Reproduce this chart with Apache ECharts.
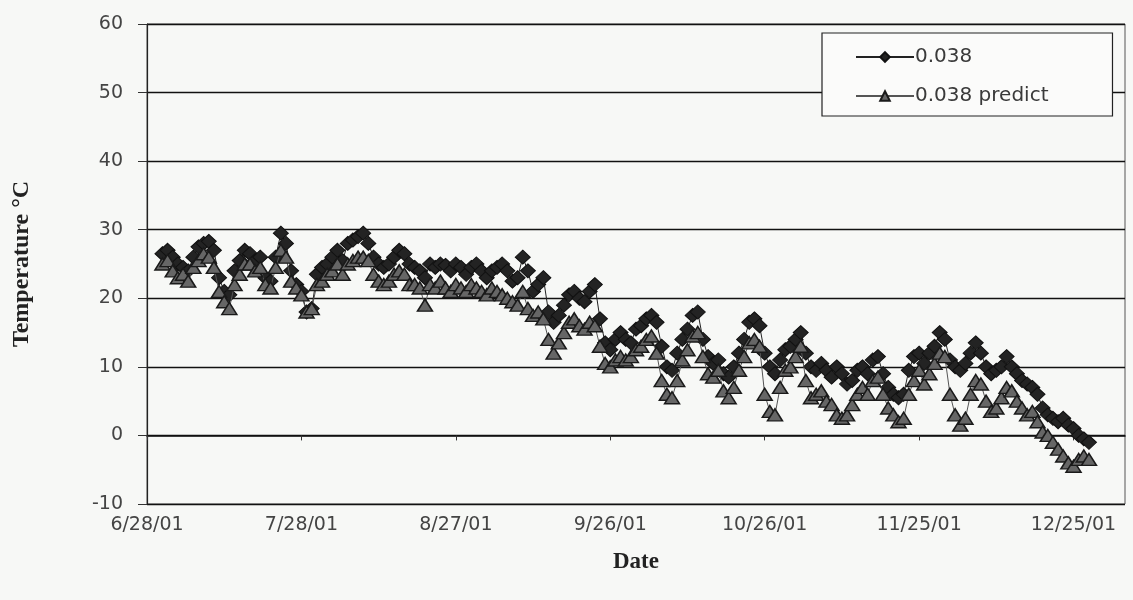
<!DOCTYPE html>
<html>
<head>
<meta charset="utf-8">
<script src="https://cdn.jsdelivr.net/npm/echarts@6/dist/echarts.min.js"></script>
<style>
  html, body { margin: 0; padding: 0; background: #f7f8f6; }
  #chart { width: 1133px; height: 600px; }
</style>
</head>
<body>
<div id="chart"></div>
<script>
// Daily water temperature, 7/1/01 through 12/28/01 (one value per day)
const axisOrigin = [2001, 5, 28];      // 6/28/01, left end of the date axis
const firstDayOffset = 3;              // first reading: 7/1/01
const dateTickDays = [0, 30, 60, 90, 120, 150, 180];
const yTicks = [-10, 0, 10, 20, 30, 40, 50, 60];

const measured = [
  26.5, 27, 26, 25, 24.5, 24,
  26, 27.5, 28, 28.3, 27,
  23, 21, 20.5,
  24, 25.5, 27,
  26.5, 25.5, 26,
  23, 22.5,
  26, 29.5, 28,
  24, 22, 21,
  18, 18.5,
  23.5, 24.5, 25,
  26, 27, 25.5,
  28, 28.5, 29, 29.5, 28,
  26, 25, 24.5, 25,
  26, 27, 26.5, 25,
  24.5, 24, 23,
  25, 24.5, 25, 24.8, 24, 25, 24.5, 23.5, 24.5, 25, 24, 23, 24,
  24.5, 25, 24, 22.5,
  23, 26, 24,
  21, 22, 23,
  18, 16.5, 17.5,
  19, 20.5, 21, 20, 19.5,
  21, 22, 17,
  13.5, 12.5, 14,
  15, 14, 13.5, 15.5, 16,
  17, 17.5, 16.5,
  13, 10, 9.5, 12,
  14, 15.5, 17.5, 18,
  14, 11.5, 10.5, 11,
  9, 8.5, 10,
  12, 14, 16.5, 17, 16,
  12, 10, 9,
  11, 12.5, 13, 14, 15,
  12, 10, 9.5,
  10.5, 9.5, 8.5, 10, 9, 7.5,
  8, 9.5, 10, 9, 11,
  11.5, 9, 7, 6, 5.5, 6,
  9.5, 11.5, 12, 10.5, 12,
  13, 15, 14,
  11, 10, 9.5, 10.5,
  12, 13.5, 12,
  10, 9, 9.5,
  10, 11.5, 10, 9,
  8, 7.5, 7, 6,
  4, 3, 2.5, 2,
  2.5, 1.5, 1, 0,
  -0.5, -1
];

const predicted = [
  25, 25.5, 24, 23, 23.5, 22.5,
  24.5, 25.5, 26.5, 26, 24.5,
  21, 19.5, 18.5,
  22, 23.5, 25,
  25, 24, 24.5,
  22, 21.5,
  24.5, 27, 26,
  22.5, 21.5, 20.5,
  18, 18.5,
  22, 22.5, 23.5,
  24, 25, 23.5,
  25, 25.5, 26, 26, 25.5,
  23.5, 22.5, 22, 22.5,
  23.5, 24, 23.5, 22,
  22, 21.5, 19,
  22, 21.5, 22.5, 21.5, 21, 22, 21.5, 21, 22, 21.5, 21, 20.5, 21.5,
  21, 20.5, 20, 19.5,
  19, 21, 18.5,
  17.5, 18, 17,
  14, 12, 13.5,
  15, 16.5, 17, 16, 15.5,
  16.5, 16, 13,
  10.5, 10, 11,
  11.5, 11, 11.5, 12.5, 13,
  14, 14.5, 12,
  8, 6, 5.5, 8,
  11, 12.5, 14.5, 15,
  11.5, 9, 8.5, 9.5,
  6.5, 5.5, 7,
  9.5, 11.5, 13.5, 14, 13,
  6, 3.5, 3,
  7, 9.5, 10, 11.5, 13,
  8, 5.5, 6,
  6.5, 5, 4.5, 3, 2.5, 3,
  4.5, 6, 7, 6, 8,
  8.5, 6, 4, 3, 2, 2.5,
  6, 8, 9.5, 7.5, 9,
  10.5, 12, 11.5,
  6, 3, 1.5, 2.5,
  6, 8, 7.5,
  5, 3.5, 4,
  5.5, 7, 6.5, 5,
  4, 3, 3.5, 2,
  0.5, 0, -1, -2,
  -3, -4, -4.5, -3.5,
  -3, -3.5
];

// day offset from 6/28/01 -> "m/d/yy"
function dayLabel(offset) {
  const d = new Date(Date.UTC(axisOrigin[0], axisOrigin[1], axisOrigin[2] + offset));
  const yy = String(d.getUTCFullYear() % 100).padStart(2, '0');
  return (d.getUTCMonth() + 1) + '/' + d.getUTCDate() + '/' + yy;
}

const toPoints = arr => arr.map((v, i) => [firstDayOffset + i, v]);

const sansFont = 'DejaVu Sans, Verdana, sans-serif';
const serifFont = 'Liberation Serif, Times New Roman, serif';

const chart = echarts.init(document.getElementById('chart'), null, { renderer: 'canvas' });

chart.setOption({
  backgroundColor: '#f7f8f6',
  animation: false,
  grid: {
    left: 147, right: 8, top: 24, bottom: 96,
    show: true, borderColor: '#555', borderWidth: 1, backgroundColor: 'transparent'
  },
  legend: {
    orient: 'vertical',
    left: 822, top: 33,
    padding: [14, 64, 10, 33],
    itemGap: 19,
    itemWidth: 58, itemHeight: 12,
    backgroundColor: '#fbfbfa',
    borderColor: '#222', borderWidth: 1.2,
    textStyle: { fontFamily: sansFont, fontSize: 20, color: '#3a3a3a', padding: [0, 0, 0, -4] },
    data: ['0.038', '0.038 predict']
  },
  xAxis: {
    type: 'value',
    min: 0, max: 190, interval: 30,
    name: 'Date',
    nameLocation: 'middle',
    nameGap: 47,
    nameTextStyle: { fontFamily: serifFont, fontWeight: 'bold', fontSize: 23, color: '#222' },
    axisLine: { lineStyle: { color: '#111', width: 1.6 } },
    axisTick: { show: true, length: 5, lineStyle: { color: '#333' }, customValues: dateTickDays },
    axisLabel: {
      customValues: dateTickDays,
      formatter: v => dayLabel(v),
      margin: 12,
      fontFamily: sansFont, fontSize: 19, color: '#444'
    },
    splitLine: { show: false }
  },
  yAxis: {
    type: 'value',
    min: -10, max: 60, interval: 10,
    name: 'Temperature °C',
    nameLocation: 'middle',
    nameGap: 113,
    nameTextStyle: { fontFamily: serifFont, fontWeight: 'bold', fontSize: 24, color: '#222' },
    axisLine: { show: true, lineStyle: { color: '#222', width: 1.2 } },
    axisTick: { show: true, length: 9, lineStyle: { color: '#333' }, customValues: yTicks },
    axisLabel: {
      customValues: yTicks,
      margin: 24,
      fontFamily: sansFont, fontSize: 19, color: '#444'
    },
    splitLine: { show: true, lineStyle: { color: '#111', width: 1.4 } }
  },
  series: [
    {
      name: '0.038',
      type: 'line',
      data: toPoints(measured),
      symbol: 'diamond',
      symbolSize: [15, 14],
      lineStyle: { color: '#222', width: 1 },
      itemStyle: { color: '#232323', borderColor: '#111', borderWidth: 1 },
      z: 3
    },
    {
      name: '0.038 predict',
      type: 'line',
      data: toPoints(predicted),
      symbol: 'triangle',
      symbolSize: [15, 12],
      lineStyle: { color: '#555', width: 1 },
      itemStyle: { color: '#666', borderColor: '#1a1a1a', borderWidth: 1.5 },
      z: 4
    }
  ]
});
</script>
</body>
</html>
